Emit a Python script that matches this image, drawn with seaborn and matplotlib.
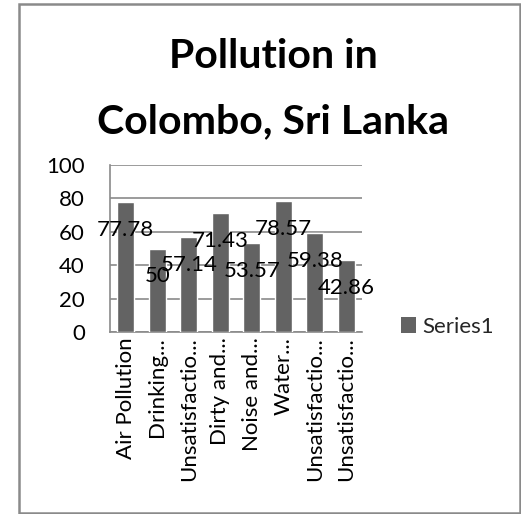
import matplotlib
matplotlib.use("Agg")
import matplotlib.pyplot as plt
import seaborn as sns
import pandas as pd
from matplotlib.patches import Rectangle, Patch

categories = ["Air Pollution", "Drinking...", "Unsatisfactio...", "Dirty and...",
              "Noise and...", "Water...", "Unsatisfactio...", "Unsatisfactio..."]
values = [77.78, 50, 57.14, 71.43, 53.57, 78.57, 59.38, 42.86]
value_labels = ["77.78", "50", "57.14", "71.43", "53.57", "78.57", "59.38", "42.86"]
y_ticks = [0, 20, 40, 60, 80, 100]
series_name = "Series1"
title_lines = ["Pollution in", "Colombo, Sri Lanka"]

sns.set_theme(style="white")
plt.rcParams["font.family"] = ["Lato", "DejaVu Sans"]

W, H = 521, 514
fig = plt.figure(figsize=(W / 100, H / 100), dpi=100)
fig.patch.set_facecolor("white")

# outer chart frame
fig.add_artist(Rectangle((19 / W, 1 - 513 / H), 500.5 / W, 509 / H,
                         transform=fig.transFigure, fill=False,
                         edgecolor="#8a8a8a", linewidth=1.8))

ax = fig.add_axes([110 / W, 1 - 332 / H, 252 / W, 167 / H])

df = pd.DataFrame({"cat": range(len(categories)), "val": values})
sns.barplot(data=df, x="cat", y="val", color="#636363", saturation=1,
            width=0.55, ax=ax, zorder=3)

fs = 16
ax.set_ylim(0, 100)
ax.set_xlim(-0.5, len(categories) - 0.5)
ax.set_yticks(y_ticks)
ax.set_yticklabels([str(t) for t in y_ticks], fontsize=fs, color="black")
ax.set_xticks(range(len(categories)))
ax.set_xticklabels(categories, rotation=90, fontsize=fs, color="black")
ax.tick_params(axis="y", length=0, pad=18)
ax.tick_params(axis="x", length=0, pad=4)
ax.set_xlabel("")
ax.set_ylabel("")

ax.yaxis.grid(True, color="#8a8a8a", linewidth=1.2, zorder=0)
ax.xaxis.grid(False)
for side in ["top", "right"]:
    ax.spines[side].set_visible(False)
for side in ["left", "bottom"]:
    ax.spines[side].set_color("#8a8a8a")
    ax.spines[side].set_linewidth(1.2)

for i, (v, lab) in enumerate(zip(values, value_labels)):
    ax.annotate(lab, (i, v), xytext=(0, -28), textcoords="offset pixels",
                ha="center", va="center", fontsize=fs, color="black", zorder=5)

fig.text(273 / W, 1 - 68 / H, title_lines[0], ha="center", va="baseline",
         fontsize=29.5, fontweight="bold", color="black")
fig.text(273 / W, 1 - 133 / H, title_lines[1], ha="center", va="baseline",
         fontsize=29.5, fontweight="bold", color="black")

fig.legend(handles=[Patch(facecolor="#636363", edgecolor="none")],
           labels=[series_name], loc="center left",
           bbox_to_anchor=(392 / W, 1 - 327 / H), frameon=False,
           fontsize=fs, handlelength=0.7, handleheight=0.7,
           handletextpad=0.25, borderaxespad=0)

fig.savefig("out.png", dpi=100, facecolor="white")
